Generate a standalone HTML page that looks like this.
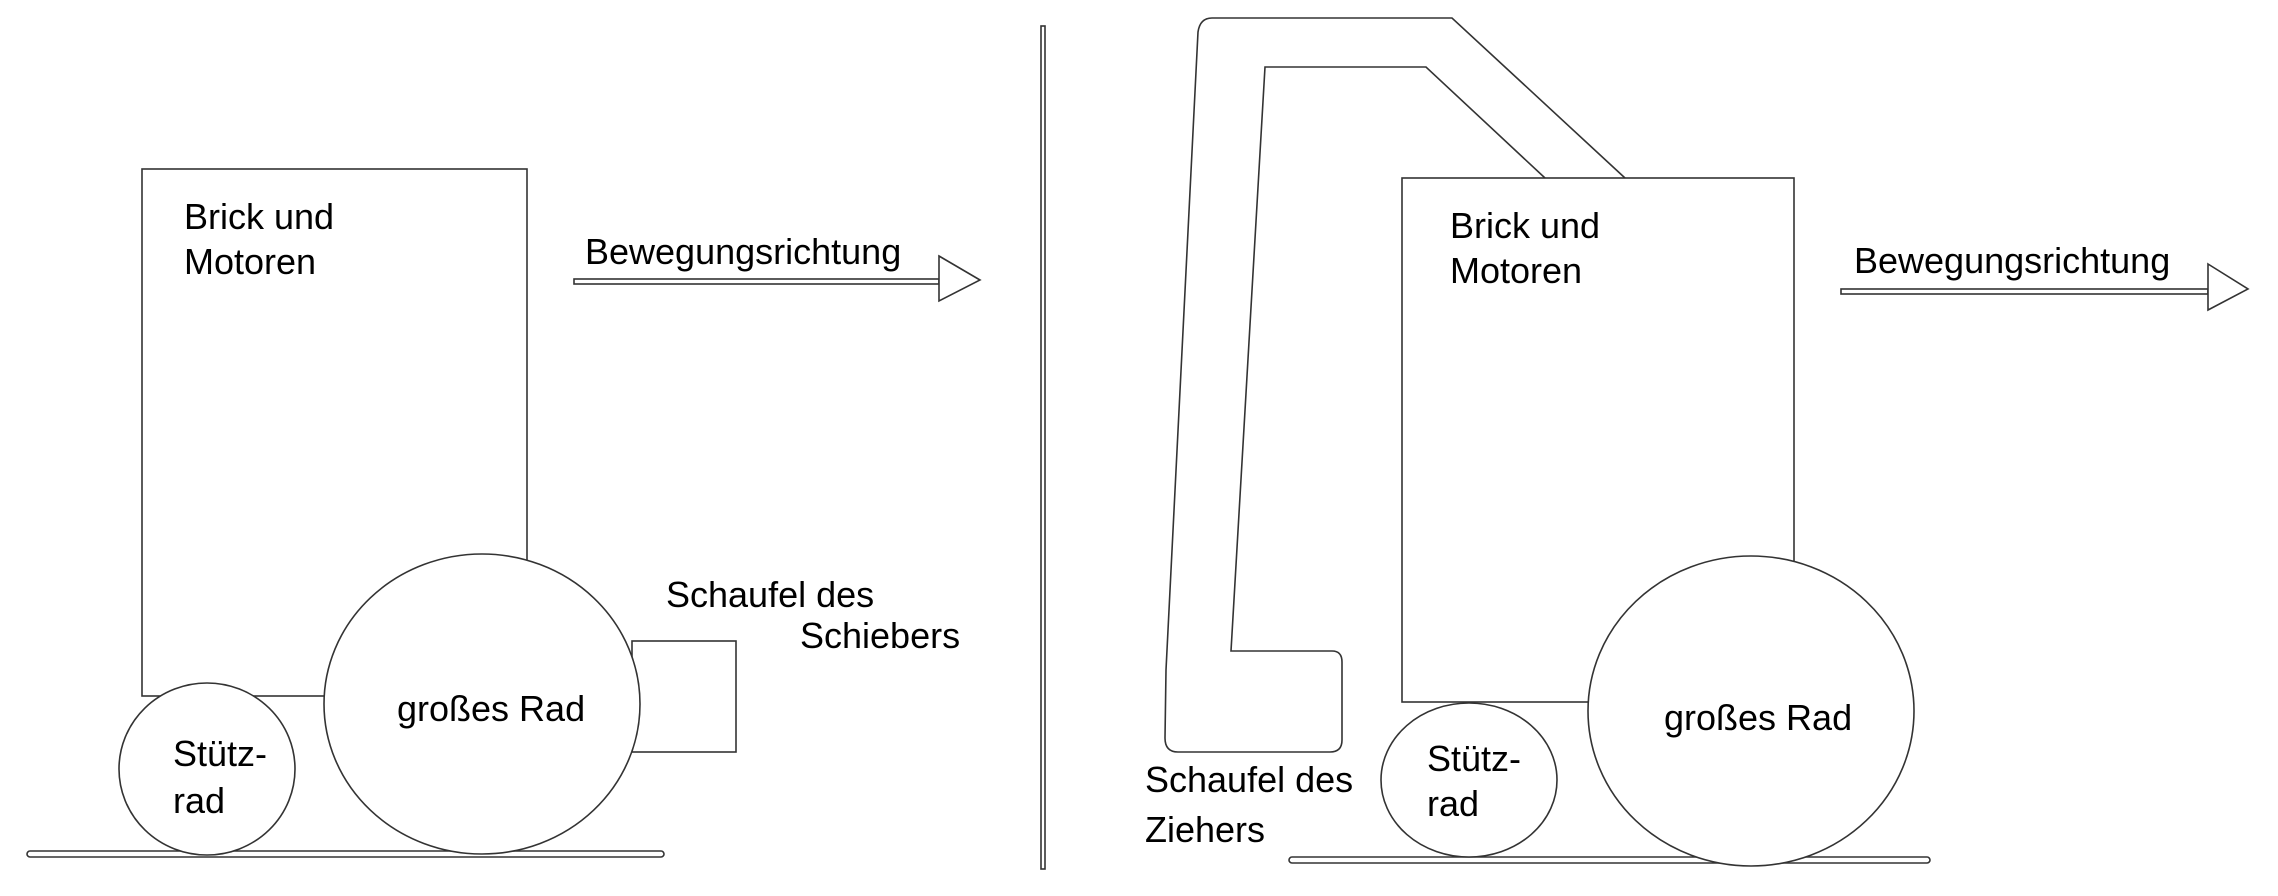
<!DOCTYPE html>
<html><head><meta charset="utf-8"><style>
html,body{margin:0;padding:0;background:#fff;}
svg{display:block;}
text{font-family:"Liberation Sans",sans-serif;font-size:36px;fill:#000;}
.s{fill:none;stroke:#333;stroke-width:1.6;}
.f{fill:#fff;stroke:#333;stroke-width:1.6;}
</style></head><body>
<svg width="2278" height="896" viewBox="0 0 2278 896">
<g>
  <rect class="s" x="142" y="169" width="385" height="527"/>
  <text x="184" y="229">Brick und</text>
  <text x="184" y="274">Motoren</text>
  <rect class="s" x="27" y="851" width="637" height="6" rx="3"/>
  <rect class="f" x="632" y="641" width="104" height="111"/>
  <ellipse class="f" cx="207" cy="769" rx="88" ry="86"/>
  <ellipse class="f" cx="482" cy="704" rx="158" ry="150"/>
  <text x="397" y="721">großes Rad</text>
  <text x="173" y="766">Stütz-</text>
  <text x="173" y="813">rad</text>
  <text x="666" y="607">Schaufel des</text>
  <text x="800" y="648">Schiebers</text>
  <rect class="s" x="574" y="279" width="365" height="5"/>
  <polygon class="f" points="939,256 980,280 939,301"/>
  <text x="585" y="264">Bewegungsrichtung</text>
</g>
<rect class="s" x="1041" y="26" width="4" height="843"/>
<g>
  <path class="s" d="M1545,178 L1426,67 L1265,67 L1231,651 L1332,651 Q1342,651 1342,662 L1342,740 Q1342,752 1330,752 L1178,752 Q1165,752 1165,738 L1166,670 L1198,32 Q1200,18 1212,18 L1452,18 L1625,178"/>
  <rect class="s" x="1402" y="178" width="392" height="524"/>
  <text x="1450" y="238">Brick und</text>
  <text x="1450" y="283">Motoren</text>
  <rect class="s" x="1289" y="857" width="641" height="6" rx="3"/>
  <ellipse class="f" cx="1469" cy="780" rx="88" ry="77"/>
  <ellipse class="f" cx="1751" cy="711" rx="163" ry="155"/>
  <text x="1664" y="730">großes Rad</text>
  <text x="1427" y="771">Stütz-</text>
  <text x="1427" y="816">rad</text>
  <text x="1145" y="792">Schaufel des</text>
  <text x="1145" y="842">Ziehers</text>
  <rect class="s" x="1841" y="289" width="367" height="5"/>
  <polygon class="f" points="2208,264 2248,289 2208,310"/>
  <text x="1854" y="273">Bewegungsrichtung</text>
</g>
</svg>
</body></html>
